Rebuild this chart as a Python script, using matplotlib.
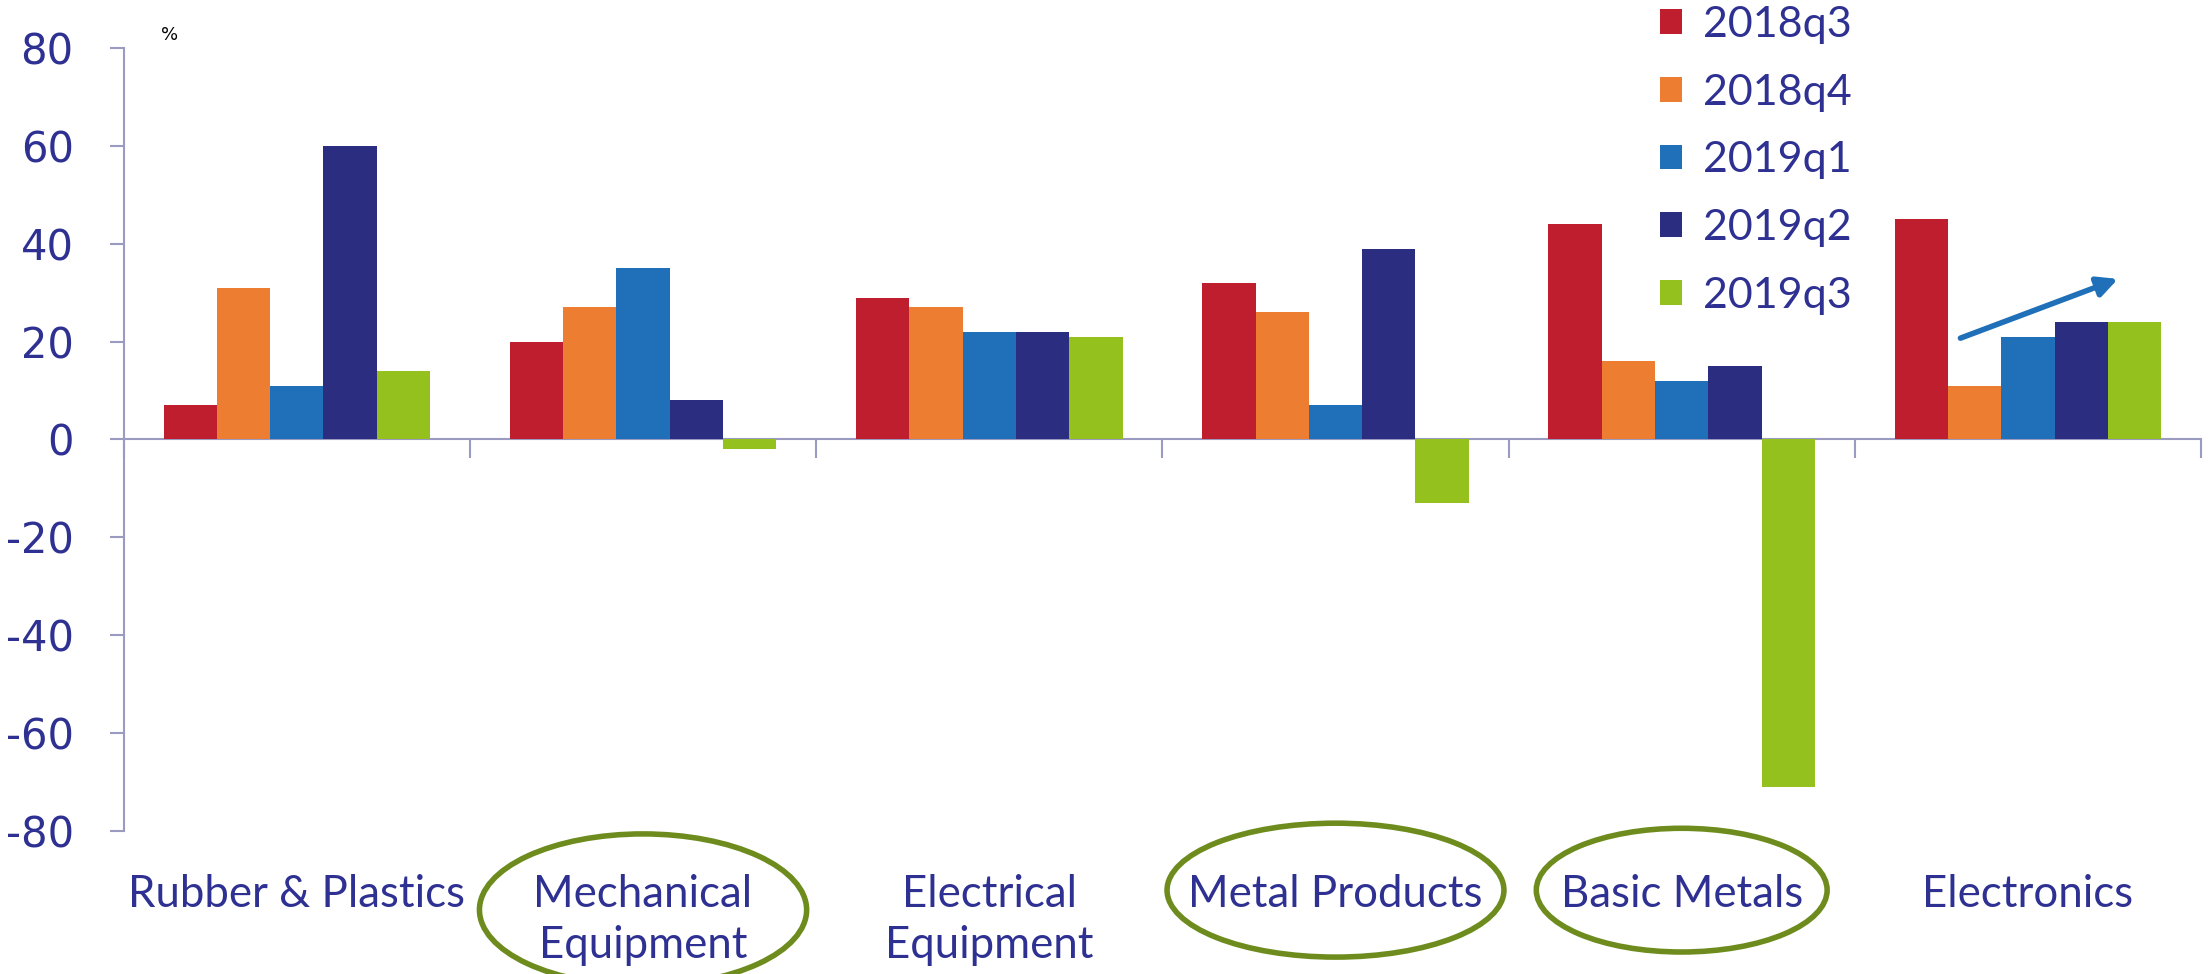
import numpy as np
import matplotlib.pyplot as plt
import matplotlib.transforms as mtransforms
from matplotlib.patches import Ellipse

plt.rcParams['axes.unicode_minus'] = False

# data (% change)
categories = ['Rubber & Plastics', 'Mechanical\nEquipment', 'Electrical\nEquipment',
              'Metal Products', 'Basic Metals', 'Electronics']
quarters = ['2018q3', '2018q4', '2019q1', '2019q2', '2019q3']
v_2018q3 = [7, 20, 29, 32, 44, 45]
v_2018q4 = [31, 27, 27, 26, 16, 11]
v_2019q1 = [11, 35, 22, 7, 12, 21]
v_2019q2 = [60, 8, 22, 39, 15, 24]
v_2019q3 = [14, -2, 21, -13, -71, 24]
circled = [1, 3, 4]   # categories with a green ring round the label

series = [v_2018q3, v_2018q4, v_2019q1, v_2019q2, v_2019q3]
colors = ['#BE1E2D', '#ED7D31', '#1F70B8', '#2B2D80', '#95C11F']
navy = '#2E3192'
axis_col = '#9B9BC2'

fig = plt.figure(figsize=(22.09, 9.74), dpi=100)
ax = fig.add_axes([0.056, 0.1468, 0.9404, 0.804])

x = np.arange(len(categories))
w = 0.154
for i, vals in enumerate(series):
    ax.bar(x + (i - 2) * w, vals, w, color=colors[i], label=quarters[i], linewidth=0)

ax.set_xlim(-0.5, len(categories) - 0.5)
ax.set_ylim(-80, 80)
for s in ['top', 'right', 'bottom']:
    ax.spines[s].set_visible(False)
ax.spines['left'].set_color(axis_col)
ax.spines['left'].set_linewidth(1.5)

ax.set_yticks(range(-80, 81, 20))
ax.tick_params(axis='y', length=10, width=1.5, color=axis_col, labelcolor=navy,
               labelsize=30, pad=26)
ax.set_xticks(x)
ax.set_xticklabels(categories, fontsize=31.5, color=navy, family='Lato', linespacing=1.3)
ax.tick_params(axis='x', length=0, pad=31)

# zero line with separators between categories
sec = ax.secondary_xaxis(0.5)
sec.set_alignment('bottom')
sec.set_xticks(np.arange(-0.5, len(categories), 1))
sec.set_xticklabels([])
sec.tick_params(axis='x', length=14, width=1.5, color=axis_col, direction='out')
sec.spines['bottom'].set_color(axis_col)
sec.spines['bottom'].set_linewidth(1.5)

ax.text(0.018, 1.01, '%', transform=ax.transAxes, fontsize=13, color='black')

# trend arrow over Electronics
ax.annotate('', xy=(5.26, 32.8), xytext=(4.805, 20.7),
            arrowprops=dict(arrowstyle='-|>', color='#1F70B8', lw=4,
                            mutation_scale=30, shrinkA=0, shrinkB=0))

# green rings round some labels
trans = mtransforms.blended_transform_factory(ax.transData, ax.transAxes)
ring_w = [0.945, 0.973, 0.84]
ring_h = [0.194, 0.171, 0.158]
ring_y = [-0.1007, -0.0755, -0.0755]
for k, c in enumerate(circled):
    ax.add_patch(Ellipse((c, ring_y[k]), ring_w[k], ring_h[k], transform=trans,
                         fill=False, edgecolor='#6E8C1E', lw=4, clip_on=False))

fig.legend(loc='upper left', bbox_to_anchor=(0.7515, 0.994), frameon=False,
           prop={'family': 'Lato', 'size': 31}, labelcolor=navy,
           handlelength=0.5, handleheight=0.5, handletextpad=0.5,
           labelspacing=0.69, borderpad=0, borderaxespad=0)

fig.savefig('out.png', dpi=100)
